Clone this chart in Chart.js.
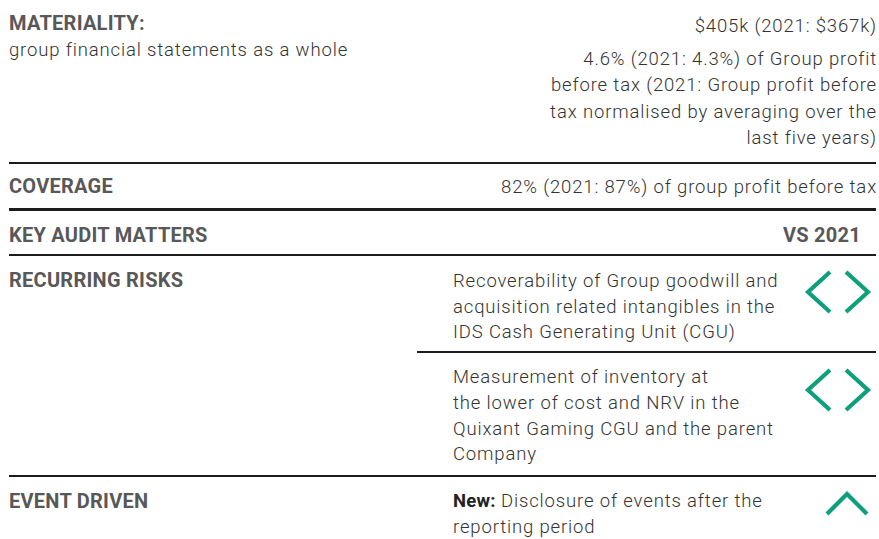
<!DOCTYPE html>
<html>
<head>
<meta charset="utf-8">
<script src="https://cdn.jsdelivr.net/npm/chart.js@4.4.1/dist/chart.umd.min.js"></script>
<style>
  html, body { margin:0; padding:0; background:#fff; }
  #page { position:relative; width:879px; height:539px; overflow:hidden; font-family:Roboto, "Noto Sans", sans-serif; }
  .t { position:absolute; white-space:nowrap; }
  .h { font-weight:700; font-size:20px; line-height:26px; color:#585858; letter-spacing:0.25px; }
  .b { font-weight:300; font-size:18.5px; letter-spacing:0.85px; color:#333; }
  .r { text-align:right; }
  .rule { position:absolute; background:#1c1c1c; }
  canvas.icon { position:absolute; }
</style>
</head>
<body>
<div id="page"></div>
<script>
// ---- content ----
const headings = ['MATERIALITY:', 'COVERAGE', 'KEY AUDIT MATTERS', 'RECURRING RISKS', 'EVENT DRIVEN'];
const headingTops = [10, 173, 222, 267, 488];
const materialityNote = 'group financial statements as a whole';
const materialityValue = '$405k (2021: $367k)';
const materialityBasis = ['4.6% (2021: 4.3%) of Group profit', 'before tax (2021: Group profit before', 'tax normalised by averaging over the', 'last five years)'];
const coverageValue = '82% (2021: 87%) of group profit before tax';
const compareLabel = 'VS 2021';
const risk1 = ['Recoverability of Group goodwill and', 'acquisition related intangibles in the', 'IDS Cash Generating Unit (CGU)'];
const risk2 = ['Measurement of inventory at', 'the lower of cost and NRV in the', 'Quixant Gaming CGU and the parent', 'Company'];
const eventNew = 'New:';
const eventText = [' Disclosure of events after the', 'reporting period'];
// change-vs-prior-year glyphs (unit shapes)
const chevronLeft  = [[-0.4, 1], [-1.5, 0], [-0.4, -1]];
const chevronRight = [[0.4, 1], [1.5, 0], [0.4, -1]];
const chevronUp    = [[-1, -0.5], [0, 0.5], [1, -0.5]];
const GREEN = '#0e9f7b';

const page = document.getElementById('page');
function txt(cls, html, left, top, extra) {
  const d = document.createElement('div');
  d.className = 't ' + cls;
  d.innerHTML = html;
  d.style.top = top + 'px';
  if (left !== null) d.style.left = left + 'px';
  if (extra) Object.assign(d.style, extra);
  page.appendChild(d);
  return d;
}
function rule(x, y, w, h) {
  const d = document.createElement('div');
  d.className = 'rule';
  Object.assign(d.style, {left:x+'px', top:y+'px', width:w+'px', height:h+'px'});
  page.appendChild(d);
}
headings.forEach((h, i) => txt('h', h, 9, headingTops[i]));
txt('b', materialityNote, 9, 37, {lineHeight:'26px'});
txt('b r', materialityValue, null, 13, {right:'2px', lineHeight:'26px'});
txt('b r', materialityBasis.join('<br>'), null, 46, {right:'2px', lineHeight:'26.4px'});
txt('b r', coverageValue, null, 174, {right:'2px', lineHeight:'26px'});
txt('h r', compareLabel, null, 222, {right:'18px'});
txt('b', risk1.join('<br>'), 453, 269, {lineHeight:'25.5px'});
txt('b', risk2.join('<br>'), 453, 365, {lineHeight:'25.8px'});
txt('b', '<span style="font-weight:700;letter-spacing:0.2px;color:#222">' + eventNew + '</span>' + eventText[0] + '<br>' + eventText[1], 453, 489, {lineHeight:'25.5px'});

rule(9, 162, 867, 2);
rule(9, 208, 867, 3);
rule(9, 254, 867, 2);
rule(417, 351, 459, 2);
rule(9, 475, 867, 2);

function icon(cx, cy, shapes) {
  const c = document.createElement('canvas');
  c.className = 'icon';
  c.width = 80; c.height = 60;
  c.style.left = (cx - 40) + 'px';
  c.style.top = (cy - 30) + 'px';
  page.appendChild(c);
  new Chart(c.getContext('2d'), {
    type: 'scatter',
    data: { datasets: shapes.map(s => ({
      data: s.map(([x, y]) => ({x, y})),
      showLine: true, borderColor: GREEN, borderWidth: 4.2,
      pointRadius: 0, borderCapStyle: 'butt', borderJoinStyle: 'miter',
      tension: 0, fill: false, clip: false
    })) },
    options: {
      responsive: false, animation: false, events: [],
      layout: { padding: 0 },
      plugins: { legend: { display: false }, tooltip: { enabled: false } },
      scales: {
        x: { type: 'linear', display: false, min: -2, max: 2 },
        y: { type: 'linear', display: false, min: -1.5, max: 1.5 }
      }
    }
  });
}
icon(838, 292, [chevronLeft, chevronRight]);
icon(838, 390, [chevronLeft, chevronRight]);
icon(847, 504, [chevronUp]);
</script>
</body>
</html>
